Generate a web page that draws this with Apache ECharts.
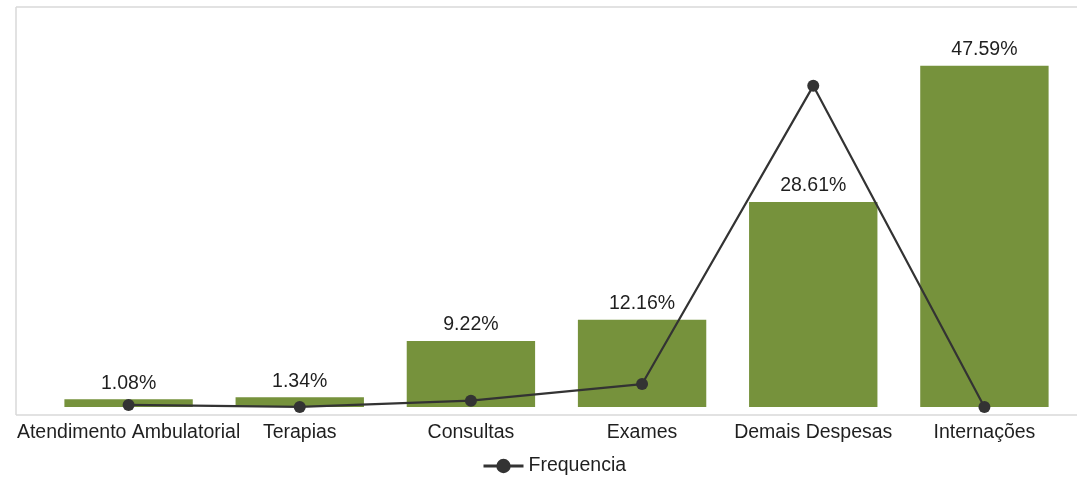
<!DOCTYPE html>
<html><head><meta charset="utf-8">
<script src="https://cdn.jsdelivr.net/npm/echarts@6/dist/echarts.min.js"></script>
<style>html,body{margin:0;padding:0;background:#fff}#c{width:1077px;height:481px}</style>
</head><body><div id="c"></div>
<script>
const categories = ['Atendimento Ambulatorial','Terapias','Consultas','Exames','Demais Despesas','Internações'];
const valorPct = [1.08, 1.34, 9.22, 12.16, 28.61, 47.59];
const frequencia = [0.28, 0.0, 0.88, 3.2, 44.8, 0.0];

const chart = echarts.init(document.getElementById('c'));
const txt = '#1f1f1f';
const fs = 19.5;
chart.setOption({
  animation: false,
  backgroundColor: '#fff',
  textStyle: { fontFamily: 'Liberation Sans, Arial, sans-serif' },
  grid: { left: 43, right: 7, top: 7, bottom: 66, containLabel: false },
  legend: {
    data: ['Frequencia'], bottom: 0, left: 477, itemWidth: 40, itemHeight: 18, itemGap: 5,
    lineStyle: { width: 3 },
    textStyle: { fontSize: fs, color: txt, fontFamily: 'Liberation Sans, Arial, sans-serif' }
  },
  xAxis: {
    type: 'category', data: categories,
    axisLine: { show: false }, axisTick: { show: false },
    axisLabel: { fontSize: fs, color: txt, margin: 8, interval: 0 }
  },
  yAxis: { type: 'value', min: -1.12, max: 55.8, show: false, splitLine: { show: false } },
  graphic: [
    { type: 'line', shape: { x1: 16, y1: 7, x2: 1077, y2: 7 }, style: { stroke: '#d9d9d9', lineWidth: 1.5 } },
    { type: 'line', shape: { x1: 16, y1: 7, x2: 16, y2: 415 }, style: { stroke: '#d9d9d9', lineWidth: 1.5 } },
    { type: 'line', shape: { x1: 16, y1: 415, x2: 1077, y2: 415 }, style: { stroke: '#d9d9d9', lineWidth: 1.5 } }
  ],
  series: [
    {
      name: 'Valor', type: 'bar', data: valorPct, barCategoryGap: '25%',
      itemStyle: { color: '#76923c' },
      label: { show: true, position: 'top', distance: 6, fontSize: fs, color: txt,
        formatter: p => p.value.toFixed(2) + '%' }
    },
    {
      name: 'Frequencia', type: 'line', data: frequencia, symbol: 'circle', symbolSize: 12,
      lineStyle: { color: '#333', width: 2.2 }, itemStyle: { color: '#333' }, z: 5
    }
  ]
});
</script></body></html>
